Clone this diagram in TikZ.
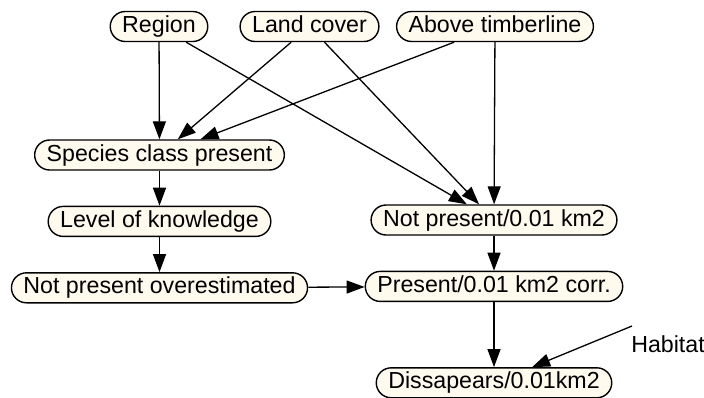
\documentclass[tikz,border=0pt]{standalone}
\usepackage{fontspec}
\usepackage{tikz}
\usetikzlibrary{arrows.meta,positioning}

\newfontfamily\netfont{Liberation Sans}
\definecolor{nodefill}{RGB}{255,249,238}

\begin{document}
\begin{tikzpicture}[
  x=0.5pt, y=-0.5pt,
  node distance=17.5pt,
  var/.style={rectangle, draw, rounded corners=7.5pt, fill=nodefill, line width=0.7pt,
    inner xsep=6pt, inner ysep=0pt, minimum height=15pt, text height=8.4pt, text depth=2.4pt,
    font=\netfont\fontsize{11.6pt}{13pt}\selectfont},
  arrow/.style={-{Triangle[length=9pt,width=6.5pt]}, line width=0.65pt}
]
\useasboundingbox (0,0) rectangle (704,397);

% top row
\node[var] (region) at (159,26.5) {Region};
\node[var] (land) at (309.5,26.5) {Land cover};
\node[var] (timber) at (495,26.5) {Above timberline};

% left column
\node[var] (species) at (159.5,155) {Species class present};
\node[var, below=of species] (know) {Level of knowledge};
\node[var, below=of know] (over) {Not present overestimated};

% right column
\node[var] (notpres) at (494,220) {Not present/0.01 km2};
\node[var, below=of notpres] (pres) {Present/0.01 km2 corr.};
\node[var, below=32.5pt of pres] (dis) {Dissapears/0.01km2};

\node[inner sep=0pt, font=\netfont\fontsize{11.6pt}{13pt}\selectfont] (habitat) at (668,344) {Habitat};
\coordinate (habtail) at (632,326);

\draw[arrow] (region) -- (species);
\draw[arrow] (land) -- (species);
\draw[arrow] (timber) -- (species);
\draw[arrow] (region) -- (notpres);
\draw[arrow] (land) -- (notpres);
\draw[arrow] (timber) -- (notpres);
\draw[arrow] (species) -- (know);
\draw[arrow] (know) -- (over);
\draw[arrow] (over) -- (pres);
\draw[arrow] (notpres) -- (pres);
\draw[arrow] (pres) -- (dis);
\draw[arrow] (habtail) -- (dis);

\end{tikzpicture}
\end{document}
